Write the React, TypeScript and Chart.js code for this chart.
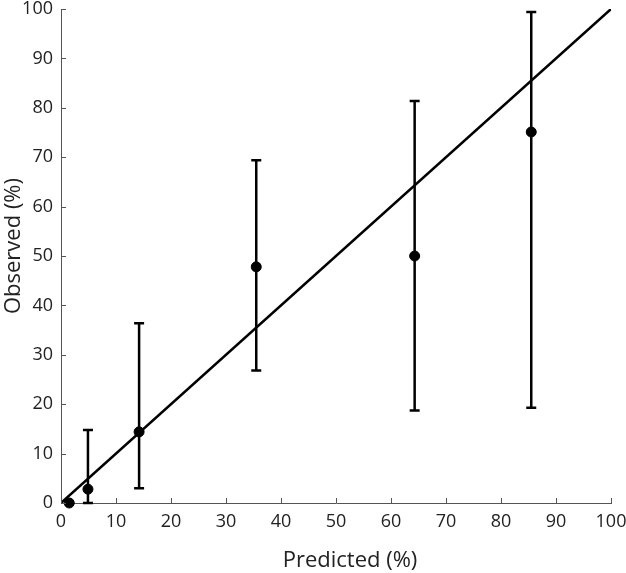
import React, { useEffect, useRef } from "react";
import { Chart, registerables } from "chart.js";

Chart.register(...registerables);

const predicted = [1.5, 4.9, 14.2, 35.5, 64.3, 85.5];
const observed = [0, 2.8, 14.4, 47.8, 50, 75.1];
const lowerCI = [0, 0, 3.0, 26.8, 18.7, 19.3];
const upperCI = [0, 14.8, 36.4, 69.4, 81.4, 99.4];
const referenceLine = [0, 100];
const tickValues = [0, 10, 20, 30, 40, 50, 60, 70, 80, 90, 100];
const xTitle = "Predicted (%)";
const yTitle = "Observed (%)";

const FONT = "'Open Sans', 'Noto Sans', sans-serif";

const errorBarPlugin = {
  id: "errorBars",
  afterDatasetsDraw(chart: any) {
    const { ctx, scales } = chart;
    const xs = scales.x;
    const ys = scales.y;
    ctx.save();
    ctx.strokeStyle = "#000";
    ctx.lineWidth = 2.5;
    for (let i = 0; i < predicted.length; i++) {
      if (upperCI[i] === lowerCI[i]) continue;
      const px = xs.getPixelForValue(predicted[i]);
      const top = ys.getPixelForValue(upperCI[i]);
      const bot = ys.getPixelForValue(lowerCI[i]);
      ctx.beginPath();
      ctx.moveTo(px, top);
      ctx.lineTo(px, bot);
      ctx.moveTo(px - 5, top);
      ctx.lineTo(px + 5, top);
      ctx.moveTo(px - 5, bot);
      ctx.lineTo(px + 5, bot);
      ctx.stroke();
    }
    ctx.restore();
  },
};

const innerTicksPlugin = {
  id: "innerTicks",
  afterDraw(chart: any) {
    const { ctx, scales, chartArea } = chart;
    ctx.save();
    ctx.strokeStyle = "#555";
    ctx.lineWidth = 1;
    ctx.beginPath();
    for (const v of tickValues) {
      const px = Math.round(scales.x.getPixelForValue(v)) + 0.5;
      ctx.moveTo(px, chartArea.bottom);
      ctx.lineTo(px, chartArea.bottom - 5);
      const py = Math.round(scales.y.getPixelForValue(v)) + 0.5;
      ctx.moveTo(chartArea.left, py);
      ctx.lineTo(chartArea.left + 5, py);
    }
    ctx.stroke();
    ctx.restore();
  },
};

const axisTitlesPlugin = {
  id: "axisTitles",
  afterDraw(chart: any) {
    const { ctx, chartArea } = chart;
    ctx.save();
    ctx.fillStyle = "#222";
    ctx.font = `22px ${FONT}`;
    ctx.textAlign = "center";
    ctx.textBaseline = "alphabetic";
    const cx = (chartArea.left + chartArea.right) / 2 + 14;
    ctx.fillText(xTitle, cx, chartArea.bottom + 64);
    const cy = (chartArea.top + chartArea.bottom) / 2 - 10;
    ctx.translate(20, cy);
    ctx.rotate(-Math.PI / 2);
    ctx.fillText(yTitle, 0, 0);
    ctx.restore();
  },
};

export default function App() {
  const ref = useRef<HTMLCanvasElement>(null);
  useEffect(() => {
    if (!ref.current) return;
    const chart = new Chart(ref.current, {
      type: "scatter",
      data: {
        datasets: [
          {
            type: "line",
            data: referenceLine.map((v) => ({ x: v, y: v })),
            borderColor: "#000",
            borderWidth: 2.5,
            pointRadius: 0,
            fill: false,
          } as any,
          {
            type: "scatter",
            data: predicted.map((p, i) => ({ x: p, y: observed[i] })),
            backgroundColor: "#000",
            borderColor: "#000",
            pointRadius: 5,
            clip: false,
          } as any,
        ],
      },
      options: {
        animation: false,
        responsive: false,
        maintainAspectRatio: false,
        layout: { padding: { top: 0, right: 0, left: 0, bottom: 0 } },
        plugins: { legend: { display: false }, tooltip: { enabled: false } },
        scales: {
          x: {
            type: "linear",
            min: 0,
            max: 100,
            afterBuildTicks: (s: any) => {
              s.ticks = tickValues.map((v) => ({ value: v }));
            },
            afterFit: (s: any) => {
              s.height = 70;
              s.paddingLeft = 0;
              s.paddingRight = 15;
            },
            grid: { display: false, drawTicks: false },
            border: { display: true, color: "#555", width: 1 },
            ticks: {
              padding: 8,
              color: "#222",
              font: { family: FONT, size: 18 },
              maxRotation: 0,
            },
            title: { display: false },
          },
          y: {
            type: "linear",
            min: 0,
            max: 100,
            afterBuildTicks: (s: any) => {
              s.ticks = tickValues.map((v) => ({ value: v }));
            },
            afterFit: (s: any) => {
              s.width = 61;
              s.paddingTop = 9;
              s.paddingBottom = 0;
            },
            grid: { display: false, drawTicks: false },
            border: { display: true, color: "#555", width: 1 },
            ticks: {
              padding: 8,
              color: "#222",
              font: { family: FONT, size: 18 },
            },
            title: { display: false },
          },
        },
      },
      plugins: [errorBarPlugin, innerTicksPlugin, axisTitlesPlugin],
    });
    return () => chart.destroy();
  }, []);
  return (
    <div style={{ position: "fixed", left: 0, top: 0, width: 626, height: 573, background: "#fff" }}>
      <canvas ref={ref} width={626} height={573} style={{ width: 626, height: 573 }} />
    </div>
  );
}
